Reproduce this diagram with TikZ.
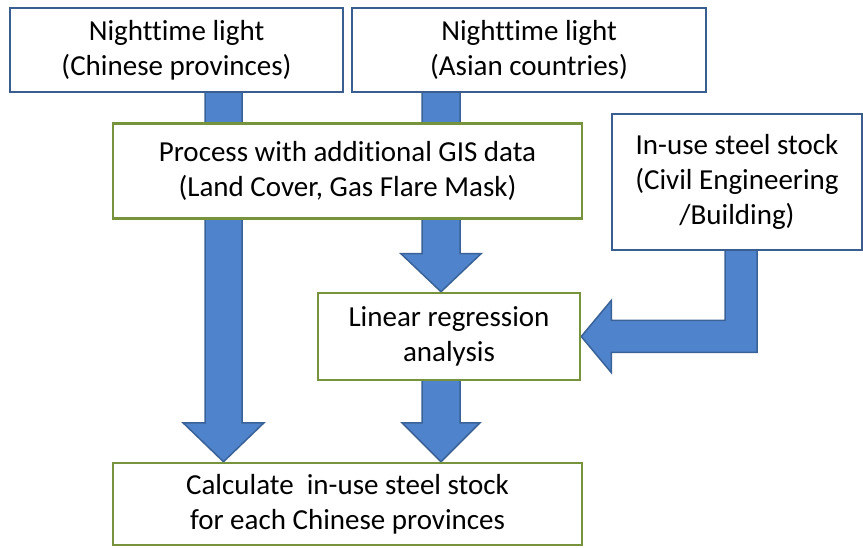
\documentclass[tikz,border=0pt]{standalone}
\usepackage{fontspec}
\setmainfont{Carlito}[Ligatures=NoCommon]
\usepackage{tikz}
\usetikzlibrary{calc,backgrounds}
\definecolor{boxblue}{HTML}{3B5E91}
\definecolor{boxgreen}{HTML}{77933C}
\definecolor{arrowfill}{HTML}{4F84CC}
\definecolor{arrowline}{HTML}{3A6296}

\begin{document}
\begin{tikzpicture}[x=1pt, y=-1pt,
	bluebox/.style={draw=boxblue, line width=2.5, fill=white, inner sep=0, align=center, font=\fontsize{29}{35}\selectfont},
	greenbox/.style={bluebox, draw=boxgreen},
	fatarrow/.style={fill=arrowfill, draw=arrowline, line width=1.5, line join=miter}
]
\useasboundingbox (0,0) rectangle (863,548);
%boxes
\node[bluebox, minimum width=333, minimum height=84] (ntlchina) at (176.5,50) {Nighttime light\\(Chinese provinces)};
\node[bluebox, minimum width=354, minimum height=84] (ntlasia) at (529,50) {Nighttime light\\(Asian countries)};
\node[greenbox, minimum width=469, minimum height=95] (process) at (347.5,171) {Process with additional GIS data\\(Land Cover, Gas Flare Mask)};
\node[bluebox, minimum width=250, minimum height=136] (steel) at (737,182) {In-use steel stock\\(Civil Engineering\\/Building)};
\node[greenbox, minimum width=262, minimum height=87] (linreg) at (449,336.5) {Linear regression\\analysis};
\node[greenbox, minimum width=469, minimum height=82] (calc) at (347.5,504) {Calculate~ in-use steel stock\\for each Chinese provinces};
%arrow axes
\coordinate (axisl) at (223.5,0);
\coordinate (axism) at (441,0);
\coordinate (axiss) at (741,0);
\begin{scope}[on background layer]
\draw[fatarrow] ($(axisl |- ntlchina.south)+(-18.5,-2)$) -- ($(axisl |- calc.north)+(-18.5,-39)$) -- ++(-22,0) -- (axisl |- calc.north) -- ($(axisl |- calc.north)+(40.5,-39)$) -- ++(-22,0) -- ($(axisl |- ntlchina.south)+(18.5,-2)$) -- cycle;
\draw[fatarrow] ($(axism |- ntlasia.south)+(-19,-2)$) -- ($(axism |- linreg.north)+(-19,-38)$) -- ++(-21,0) -- (axism |- linreg.north) -- ($(axism |- linreg.north)+(40,-38)$) -- ++(-21,0) -- ($(axism |- ntlasia.south)+(19,-2)$) -- cycle;
\draw[fatarrow] ($(axism |- linreg.south)+(-19,-2)$) -- ($(axism |- calc.north)+(-19,-39)$) -- ++(-20,0) -- (axism |- calc.north) -- ($(axism |- calc.north)+(39,-39)$) -- ++(-20,0) -- ($(axism |- linreg.south)+(19,-2)$) -- cycle;
\draw[fatarrow] ($(axiss |- steel.south)+(-16,-2)$) |- ($(linreg.east)+(30,-16)$) -- ++(0,-20) -- (linreg.east) -- ($(linreg.east)+(30,36)$) -- ++(0,-20) -| ($(axiss |- steel.south)+(16,-2)$) -- cycle;
\end{scope}
\end{tikzpicture}
\end{document}
